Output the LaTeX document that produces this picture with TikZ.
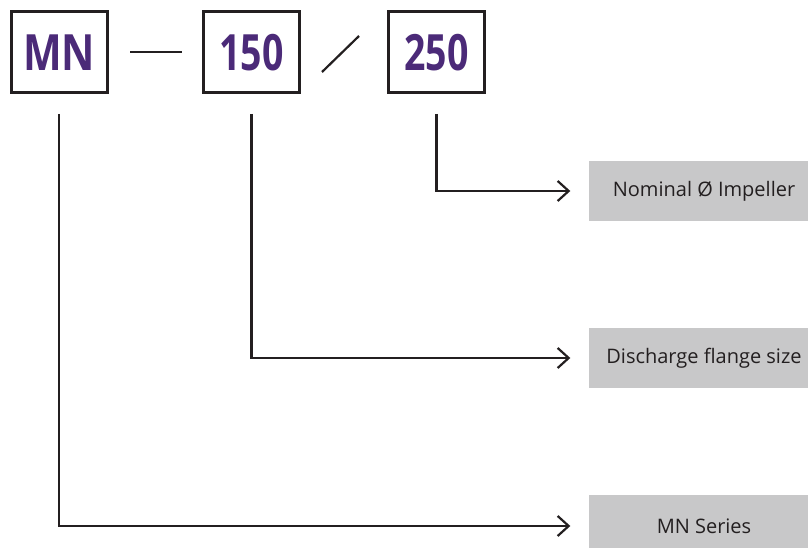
\documentclass[tikz,border=0pt]{standalone}
\usepackage{fontspec}
\setmainfont{Open Sans}
\usetikzlibrary{arrows.meta,positioning}
\definecolor{codepurple}{HTML}{4B2A78}
\definecolor{labelgray}{HTML}{C8C8C9}
\definecolor{linedark}{HTML}{231F20}
\tikzset{
	codebox/.style={draw=linedark,line width=3pt,minimum width=96pt,minimum height=81pt,inner sep=0pt,
		text=codepurple,font=\fontsize{50}{50}\selectfont\bfseries},
	labelbox/.style={fill=labelgray,minimum width=231pt,minimum height=60pt,inner sep=0pt,
		text=linedark,font=\fontsize{20}{24}\selectfont},
	leader/.style={draw=linedark,line width=2.2pt,-{Straight Barb[length=11pt,width=20pt]},shorten >=18pt},
	sep/.style={draw=linedark,line width=2.2pt},
}
\begin{document}
\begin{tikzpicture}[x=1pt,y=-1pt]
		\useasboundingbox (0,0) rectangle (808,548);
		\clip (0,0) rectangle (808,548);
		% 型号三段
		\node[codebox] (mn) at (59,52.5) {\scalebox{0.82}[1]{MN}};
		\node[codebox] (dia) at (251.5,52.5) {\scalebox{0.75}[1]{150}};
		\node[codebox] (imp) at (436.5,52.5) {\scalebox{0.75}[1]{250}};
		\coordinate (dashl) at (130,52);
		\coordinate (dashr) at (182,52);
		\coordinate (slashl) at (322,72);
		\coordinate (slashr) at (359,36);
		\draw[sep] (dashl) -- (dashr);
		\draw[sep] (slashl) -- (slashr);
		% 说明框
		\node[labelbox] (impl) at (704,191) {Nominal Ø Impeller};
		\node[labelbox] (dial) at (704,358) {Discharge flange size};
		\node[labelbox,minimum height=62pt] (mnl) at (704,526) {MN Series};
		% 引线
		\coordinate[below=19.5pt of imp.south] (impfoot);
		\coordinate[below=19.5pt of dia.south] (diafoot);
		\coordinate[below=19.5pt of mn.south] (mnfoot);
		\draw[leader] (impfoot) |- (impl);
		\draw[leader] (diafoot) |- (dial);
		\draw[leader] (mnfoot) |- (mnl);
	\end{tikzpicture}
\end{document}
